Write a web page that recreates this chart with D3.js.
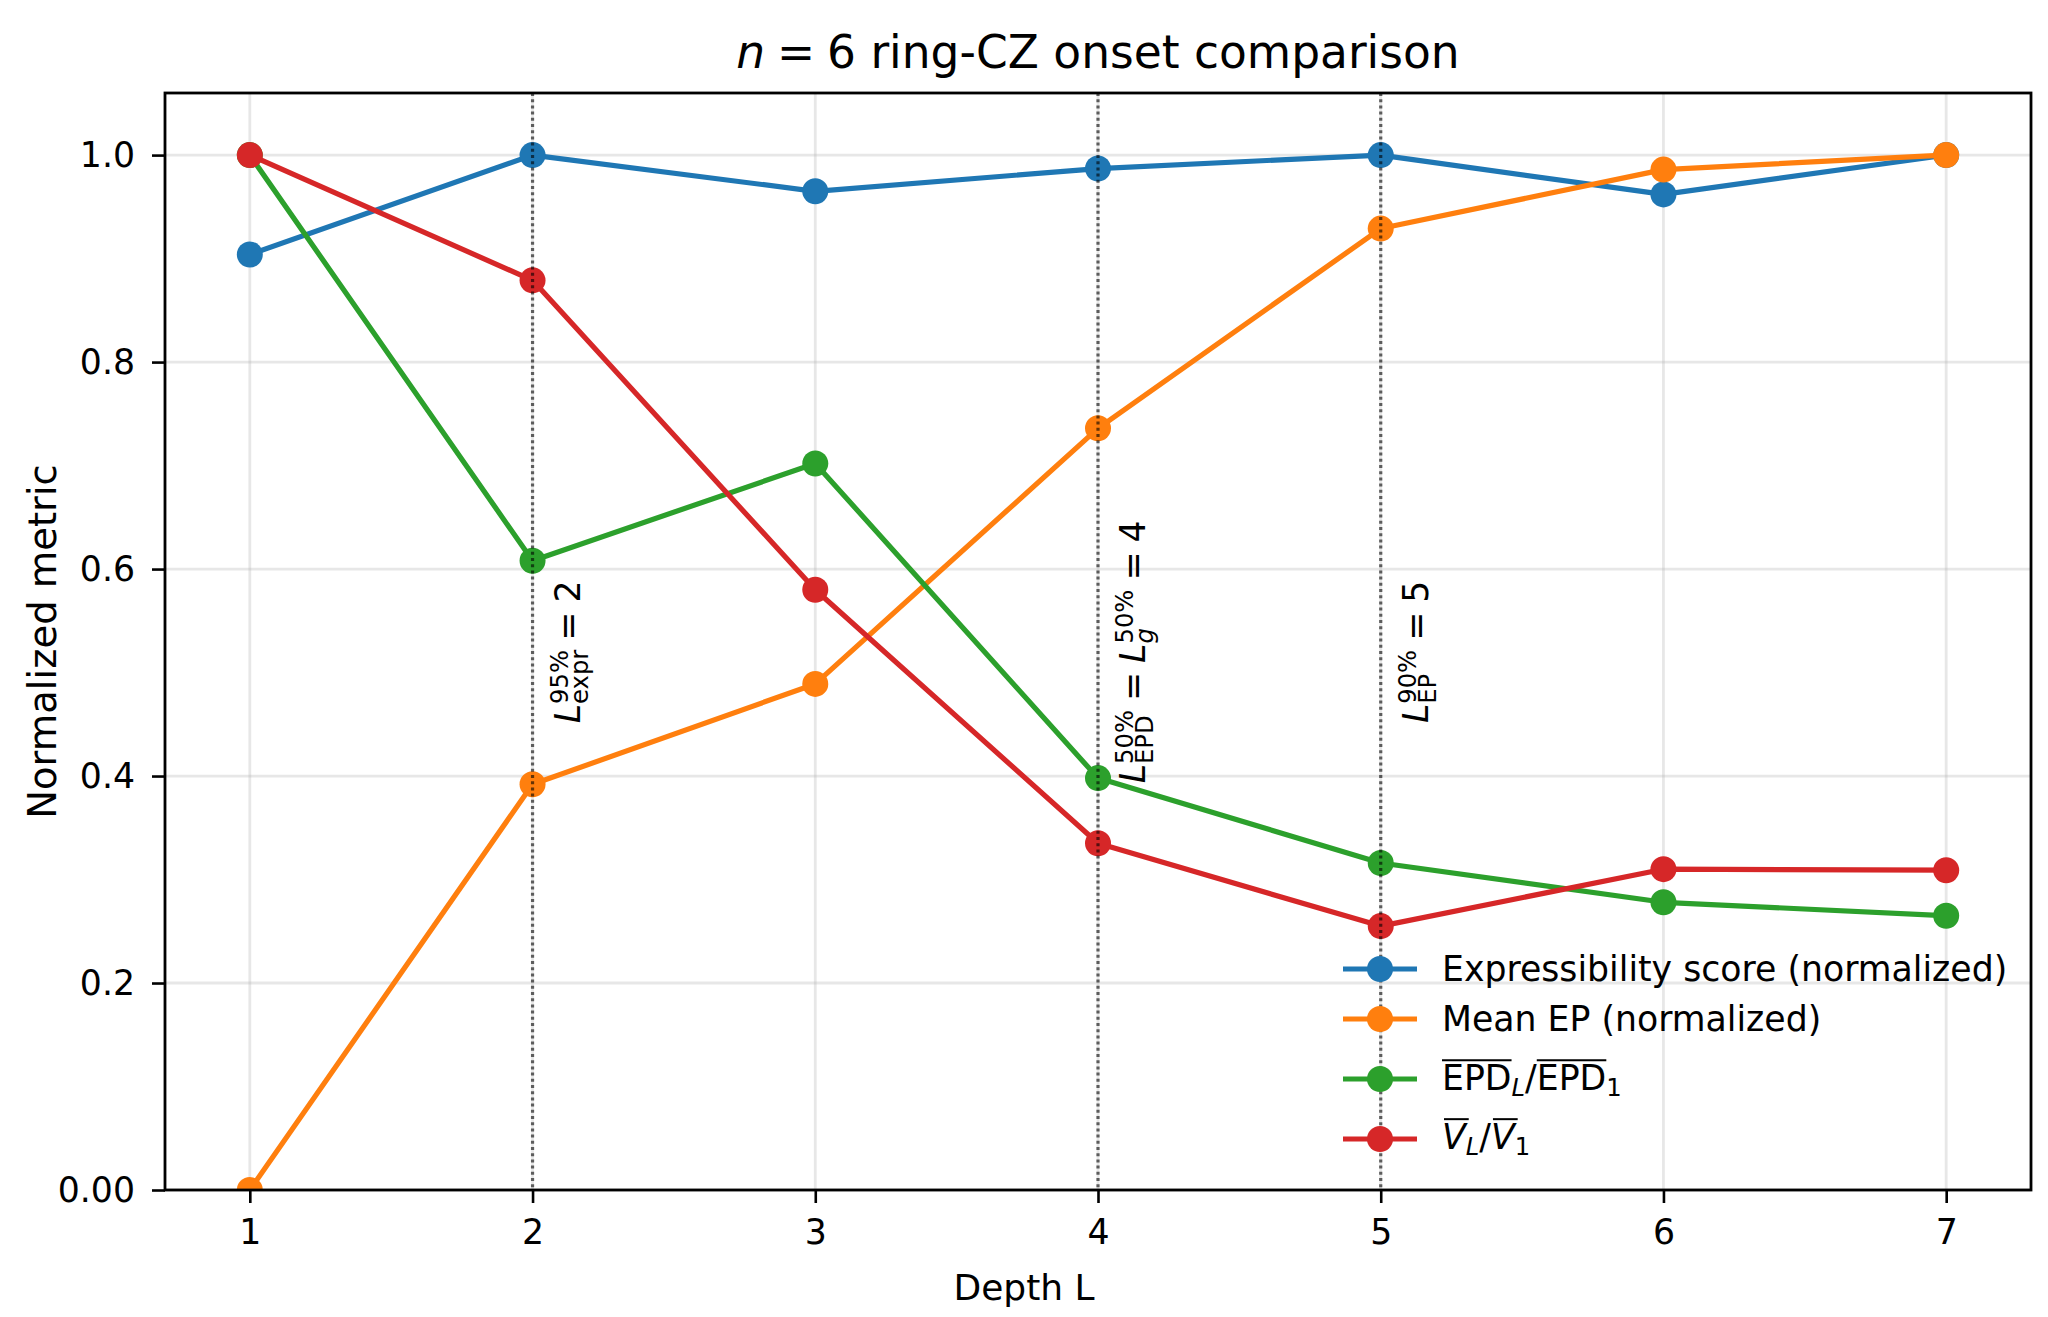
<!DOCTYPE html>
<html>
<head>
<meta charset="utf-8">
<script src="https://cdn.jsdelivr.net/npm/d3@7"></script>
<style>
  body { margin: 0; background: #fff; }
  svg { font-family: "DejaVu Sans", sans-serif; }
  svg text { white-space: pre; }
</style>
</head>
<body>
<script>
var width = 2048;
var height = 1317;

// data
var depths = [1, 2, 3, 4, 5, 6, 7];
var exprScore = [0.904, 1.0, 0.965, 0.987, 1.0, 0.962, 1.0];
var meanEP = [0.0, 0.392, 0.489, 0.736, 0.929, 0.986, 1.0];
var epdRatio = [1.0, 0.608, 0.702, 0.398, 0.316, 0.278, 0.265];
var vRatio = [1.0, 0.879, 0.580, 0.335, 0.255, 0.310, 0.309];
var seriesColors = ["#1f77b4", "#ff7f0e", "#2ca02c", "#d62728"];
var onsetDepths = [2, 4, 5];
var onsetLabelY = 0.52;
var xTicks = [1, 2, 3, 4, 5, 6, 7];
var yTicks = [0, 0.2, 0.4, 0.6, 0.8, 1.0];
var yTickLabels = ["0.00", "0.2", "0.4", "0.6", "0.8", "1.0"];

// rich text pieces (mathtext-ish): t=text, it=italic, s=scale, y=baseline shift, ov=overline, stack=share x with previous, sp=space before (em)
var onsetLabels = [
    [{t: "L", it: true}, {t: "95%", s: 0.7, y: -12}, {t: "expr", s: 0.7, y: 8, stack: true},
     {t: "=", sp: 0.26}, {t: "2", sp: 0.26}],
    [{t: "L", it: true}, {t: "50%", s: 0.7, y: -12}, {t: "EPD", s: 0.7, y: 8, stack: true},
     {t: "=", sp: 0.26}, {t: "L", it: true, sp: 0.26}, {t: "50%", s: 0.7, y: -12},
     {t: "g", it: true, s: 0.7, y: 8, stack: true}, {t: "=", sp: 0.26}, {t: "4", sp: 0.26}],
    [{t: "L", it: true}, {t: "90%", s: 0.7, y: -12}, {t: "EP", s: 0.7, y: 8, stack: true},
     {t: "=", sp: 0.26}, {t: "5", sp: 0.26}]
];
var legendLabels = [
    [{t: "Expressibility score (normalized)"}],
    [{t: "Mean EP (normalized)"}],
    [{t: "EPD", ov: true}, {t: "L", it: true, s: 0.7, y: 6}, {t: "/"}, {t: "EPD", ov: true}, {t: "1", s: 0.7, y: 6}],
    [{t: "V", it: true, ov: true}, {t: "L", it: true, s: 0.7, y: 6}, {t: "/"}, {t: "V", it: true, ov: true}, {t: "1", s: 0.7, y: 6}]
];
var titleParts = [{t: "n", it: true}, {t: "=", sp: 0.26}, {t: "6", sp: 0.26}, {t: " ring-CZ onset comparison"}];

var series = [exprScore, meanEP, epdRatio, vRatio];

var plot = {left: 165, right: 2031, top: 93, bottom: 1190};
var fontSize = 34.7;

var svg = d3.select("body").append("svg")
    .attr("width", width)
    .attr("height", height);

var x = d3.scaleLinear().domain([0.7, 7.3]).range([plot.left, plot.right]);
var y = d3.scaleLinear().domain([0, 1.06]).range([plot.bottom, plot.top]);

// lays out pieces left to right inside g, returns total width
function richText(g, parts, size) {
    var cx = 0, lastX = 0, lastW = 0;
    parts.forEach(function (p) {
        var fs = size * (p.s || 1);
        if (!p.stack) cx += (p.sp || 0) * size;
        var px = p.stack ? lastX : cx;
        var t = g.append("text")
            .attr("x", px)
            .attr("y", p.y || 0)
            .attr("font-size", fs)
            .attr("font-style", p.it ? "italic" : "normal")
            .attr("fill", "#000")
            .text(p.t);
        var w = t.node().getComputedTextLength();
        if (p.ov) {
            g.append("line")
                .attr("x1", px + (p.it ? 2 : 0))
                .attr("x2", px + w + (p.it ? 3 : 0))
                .attr("y1", -0.86 * size)
                .attr("y2", -0.86 * size)
                .attr("stroke", "#000")
                .attr("stroke-width", 2);
        }
        if (p.stack) {
            cx = lastX + Math.max(lastW, w);
        } else {
            lastX = px;
            lastW = w;
            cx = px + w;
        }
    });
    return cx;
}

// grid
var grid = svg.append("g");
grid.selectAll(".gx").data(xTicks).enter().append("line")
    .attr("x1", function (d) { return x(d); })
    .attr("x2", function (d) { return x(d); })
    .attr("y1", plot.top).attr("y2", plot.bottom)
    .attr("stroke", "#b0b0b0").attr("stroke-opacity", 0.3).attr("stroke-width", 2.8);
grid.selectAll(".gy").data(yTicks).enter().append("line")
    .attr("x1", plot.left).attr("x2", plot.right)
    .attr("y1", function (d) { return y(d); })
    .attr("y2", function (d) { return y(d); })
    .attr("stroke", "#b0b0b0").attr("stroke-opacity", 0.3).attr("stroke-width", 2.8);

svg.append("clipPath").attr("id", "clip")
    .append("rect")
    .attr("x", plot.left).attr("y", plot.top)
    .attr("width", plot.right - plot.left).attr("height", plot.bottom - plot.top);

var plotG = svg.append("g").attr("clip-path", "url(#clip)");

var line = d3.line()
    .x(function (d, i) { return x(depths[i]); })
    .y(function (d) { return y(d); });

series.forEach(function (vals, k) {
    var sg = plotG.append("g");
    sg.append("path")
        .datum(vals)
        .attr("d", line)
        .attr("fill", "none")
        .attr("stroke", seriesColors[k])
        .attr("stroke-width", 5.2)
        .attr("stroke-linejoin", "round")
        .attr("stroke-linecap", "square");
    sg.selectAll("circle").data(vals).enter().append("circle")
        .attr("cx", function (d, i) { return x(depths[i]); })
        .attr("cy", function (d) { return y(d); })
        .attr("r", 13)
        .attr("fill", seriesColors[k]);
});

// onset lines
plotG.selectAll(".onset").data(onsetDepths).enter().append("line")
    .attr("x1", function (d) { return x(d); })
    .attr("x2", function (d) { return x(d); })
    .attr("y1", plot.top).attr("y2", plot.bottom)
    .attr("stroke", "#000").attr("stroke-opacity", 0.6)
    .attr("stroke-width", 3.2)
    .attr("stroke-dasharray", "3,3.2");

onsetDepths.forEach(function (d, i) {
    var ag = svg.append("g")
        .attr("transform", "translate(" + (x(d) + 47) + "," + y(onsetLabelY) + ") rotate(-90)");
    var inner = ag.append("g");
    var w = richText(inner, onsetLabels[i], fontSize);
    inner.attr("transform", "translate(" + (-w / 2) + ",0)");
});

// axes
var xAxis = d3.axisBottom(x).tickValues(xTicks).tickFormat(d3.format("d")).tickSize(13).tickPadding(16);
var yAxis = d3.axisLeft(y).tickValues(yTicks)
    .tickFormat(function (d, i) { return yTickLabels[i]; })
    .tickSize(13).tickPadding(17);

var xg = svg.append("g").attr("transform", "translate(0," + plot.bottom + ")").call(xAxis);
var yg = svg.append("g").attr("transform", "translate(" + plot.left + ",0)").call(yAxis);
[xg, yg].forEach(function (g) {
    g.select(".domain").remove();
    g.selectAll(".tick line").attr("stroke", "#000").attr("stroke-width", 2.6);
    g.selectAll(".tick text")
        .attr("font-size", fontSize)
        .attr("font-family", "DejaVu Sans")
        .attr("fill", "#000");
});

svg.append("rect")
    .attr("x", plot.left).attr("y", plot.top)
    .attr("width", plot.right - plot.left).attr("height", plot.bottom - plot.top)
    .attr("fill", "none").attr("stroke", "#000").attr("stroke-width", 2.8);

// labels
svg.append("text")
    .attr("x", 1024).attr("y", 1300)
    .attr("text-anchor", "middle")
    .attr("font-size", 36)
    .text("Depth L");
svg.append("text")
    .attr("transform", "translate(56," + ((plot.top + plot.bottom) / 2) + ") rotate(-90)")
    .attr("text-anchor", "middle")
    .attr("font-size", 38.5)
    .text("Normalized metric");

var tg = svg.append("g");
var tInner = tg.append("g");
var tw = richText(tInner, titleParts, 45.5);
tg.attr("transform", "translate(" + ((plot.left + plot.right) / 2 - tw / 2) + ",68)");

// legend (no frame)
var legendRows = [969, 1019, 1079, 1139];
var baseOff = [12, 12, 11, 10];
legendLabels.forEach(function (parts, i) {
    var lg = svg.append("g").attr("transform", "translate(0," + legendRows[i] + ")");
    lg.append("line")
        .attr("x1", 1343).attr("x2", 1417)
        .attr("y1", 0).attr("y2", 0)
        .attr("stroke", seriesColors[i]).attr("stroke-width", 5.2);
    lg.append("circle")
        .attr("cx", 1380).attr("cy", 0).attr("r", 13)
        .attr("fill", seriesColors[i]);
    var txt = lg.append("g").attr("transform", "translate(1442," + baseOff[i] + ")");
    richText(txt, parts, fontSize);
});
</script>
</body>
</html>
